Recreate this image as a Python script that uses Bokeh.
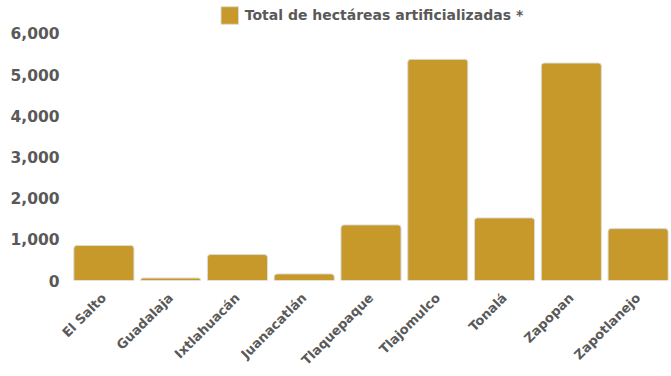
from bokeh.plotting import figure
from bokeh.models import (ColumnDataSource, Legend, LegendItem, NumeralTickFormatter,
                          FixedTicker, Range1d)
from bokeh.embed import file_html
from bokeh.resources import INLINE
import math

municipios = ["El Salto", "Guadalaja", "Ixtlahuacán", "Juanacatlán", "Tlaquepaque",
              "Tlajomulco", "Tonalá", "Zapopan", "Zapotlanejo"]
hectareas = [850, 60, 630, 160, 1350, 5370, 1520, 5280, 1260]
y_ticks = [0, 1000, 2000, 3000, 4000, 5000, 6000]
serie = "Total de hectáreas artificializadas *"

GOLD = "#C6992A"
TEXT = "#595959"
FONT = "DejaVu Sans"

src = ColumnDataSource(dict(m=municipios, v=hectareas))

# frame spans the full height above the baseline; 6000 sits 33px below the top
y_top = 6000 * 281 / 248

p = figure(x_range=municipios, y_range=Range1d(0, y_top), width=671, height=376,
           output_backend="svg", toolbar_location=None,
           min_border_left=70, min_border_right=0, min_border_top=0, min_border_bottom=95)

r = p.vbar(x="m", top="v", width=0.9, source=src, fill_color=GOLD, line_color="#dcdcdc",
           line_width=1, border_radius=(3, 3, 0, 0))

p.outline_line_color = None
p.background_fill_color = "white"
p.border_fill_color = "white"
p.xgrid.grid_line_color = None
p.ygrid.grid_line_color = None

p.yaxis.ticker = FixedTicker(ticks=y_ticks)
p.yaxis.formatter = NumeralTickFormatter(format="0,0")
p.yaxis.axis_line_color = None
p.yaxis.major_tick_line_color = None
p.yaxis.minor_tick_line_color = None
p.yaxis.major_label_text_font = FONT
p.yaxis.major_label_text_font_style = "bold"
p.yaxis.major_label_text_font_size = "15.5px"
p.yaxis.major_label_text_color = TEXT
p.yaxis.major_label_standoff = 5

p.xaxis.axis_line_color = None
p.xaxis.major_tick_line_color = None
p.xaxis.minor_tick_line_color = None
p.xaxis.major_label_orientation = math.pi / 4
p.xaxis.major_label_text_font = FONT
p.xaxis.major_label_text_font_style = "bold"
p.xaxis.major_label_text_font_size = "13px"
p.xaxis.major_label_text_color = TEXT
p.xaxis.major_label_standoff = 9
p.x_range.range_padding = 0

legend = Legend(items=[LegendItem(label=serie, renderers=[r])], location="top_center",
                orientation="horizontal", glyph_width=22, glyph_height=22, padding=0,
                margin=4, spacing=0, label_standoff=5, border_line_color=None,
                background_fill_alpha=0,
                label_text_font=FONT, label_text_font_style="bold",
                label_text_font_size="14px", label_text_color=TEXT)
p.add_layout(legend)

open("out.html", "w").write(file_html(p, INLINE))
